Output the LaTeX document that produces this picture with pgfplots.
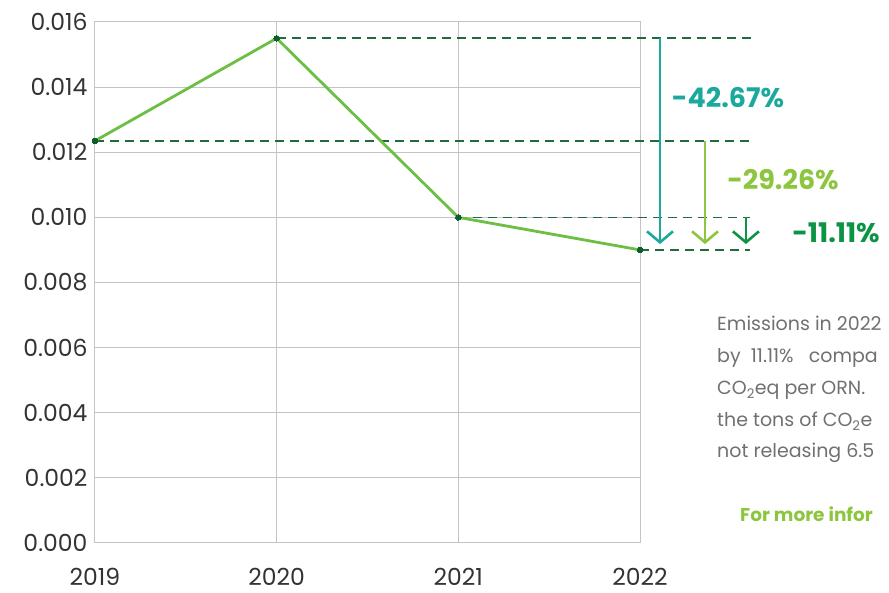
\documentclass[border=0pt]{standalone}
\usepackage{pgfplots}
\pgfplotsset{compat=1.18}
\usepackage{fontspec}
\setmainfont{Poppins}
\usetikzlibrary{arrows.meta}
\definecolor{linegreen}{HTML}{6DBE45}
\definecolor{dotgreen}{HTML}{0B5E2E}
\definecolor{dashgreen}{HTML}{1E6B3C}
\definecolor{tealc}{HTML}{1AA99C}
\definecolor{lightgreen}{HTML}{8CC63E}
\definecolor{darkgreen}{HTML}{0B9444}
\definecolor{gridgray}{HTML}{C4C4C4}
\definecolor{textgray}{HTML}{707070}
\begin{document}
\begin{tikzpicture}
\clip (0pt,0pt) rectangle (889pt,593pt);
\begin{axis}[
  at={(95pt,50pt)}, anchor=south west,
  scale only axis, width=545pt, height=521pt,
  xmin=0, xmax=3, ymin=0, ymax=0.016,
  xtick={0,1,2,3}, xticklabels={2019,2020,2021,2022},
  ytick={0,0.002,0.004,0.006,0.008,0.010,0.012,0.014,0.016},
  scaled y ticks=false,
  /pgf/number format/assume math mode=true,
  yticklabel={\pgfmathprintnumber[fixed,fixed zerofill,precision=3]{\tick}},
  grid=major,
  major grid style={gridgray, line width=1pt},
  axis line style={gridgray, line width=1pt},
  tick style={draw=none},
  ticklabel style={font=\fontsize{23.5}{26}\selectfont, text=black!80},
  yticklabel style={xshift=-4pt},
  xticklabel style={yshift=-22pt},
  clip=false,
]
\addplot[dashgreen, dash pattern=on 9pt off 6pt, line width=1.7pt] coordinates {(1,0.0155) (3.633,0.0155)};
\addplot[dashgreen, dash pattern=on 9pt off 6pt, line width=1.7pt] coordinates {(0,0.01235) (3.633,0.01235)};
\addplot[dashgreen, dash pattern=on 9pt off 6pt, line width=1.7pt] coordinates {(2,0.0100) (3.605,0.0100)};
\addplot[dashgreen, dash pattern=on 9pt off 6pt, line width=1.7pt] coordinates {(3,0.0090) (3.605,0.0090)};
\addplot[linegreen, line width=2.8pt, mark=*, mark size=2.8pt, mark options={fill=dotgreen, draw=dotgreen, line width=0pt}] coordinates {
(0,0.01235) (1,0.0155) (2,0.0100) (3,0.0090)};
\addplot[tealc, line width=2.6pt, -{Straight Barb[length=11pt,width=26pt,line width=2.6pt]}] coordinates {(3.110,0.0155) (3.110,0.00918)};
\addplot[lightgreen, line width=2.6pt, -{Straight Barb[length=11pt,width=26pt,line width=2.6pt]}] coordinates {(3.358,0.01235) (3.358,0.00918)};
\addplot[darkgreen, line width=2.6pt, -{Straight Barb[length=11pt,width=26pt,line width=2.6pt]}] coordinates {(3.583,0.0100) (3.583,0.00918)};
\end{axis}
\node[text=tealc, font=\fontsize{27}{30}\selectfont\bfseries] at (728pt,495pt) {-42.67\%};
\node[text=lightgreen, font=\fontsize{27}{30}\selectfont\bfseries] at (783pt,413pt) {-29.26\%};
\node[text=darkgreen, font=\fontsize{27}{30}\selectfont\bfseries] at (836pt,360pt) {-11.11\%};
\begin{scope}[every node/.style={anchor=base west, inner sep=0pt, text=textgray, font=\fontsize{19}{21}\selectfont}]
\node at (717pt,262pt) {Emissions in 2022};
\node at (717pt,230pt) {by\ \ 11.11\%\ \ \ compa};
\node at (717pt,198pt) {CO\textsubscript{2}eq per ORN.};
\node at (717pt,166pt) {the tons of CO\textsubscript{2}e};
\node at (717pt,135pt) {not releasing 6.5};
\end{scope}
\node[anchor=base west, inner sep=0pt, text=lightgreen, font=\fontsize{18.5}{20}\selectfont\bfseries] at (740pt,71pt) {For more infor};
\end{tikzpicture}
\end{document}
